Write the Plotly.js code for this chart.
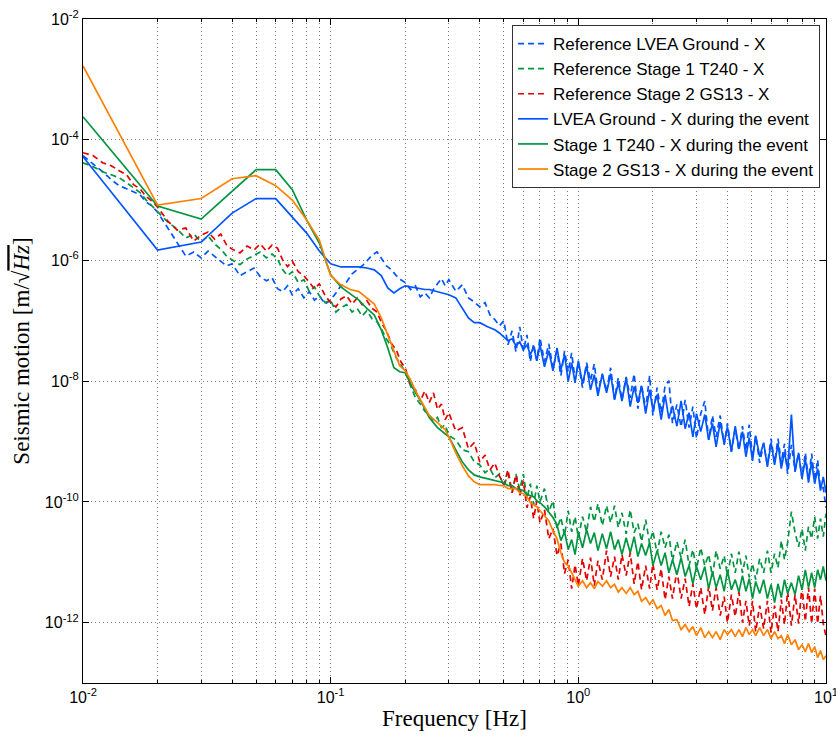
<!DOCTYPE html>
<html>
<head>
<meta charset="utf-8">
<script src="https://cdn.plot.ly/plotly-3.0.1.min.js"></script>
<style>html,body{margin:0;padding:0;background:#fff;}#chart{width:836px;height:740px;}</style>
</head>
<body>
<div id="chart"></div>
<script>
// ---------- DATA ----------
const SERIES_NAMES = [
  "Reference LVEA Ground - X",
  "Reference Stage 1 T240 - X",
  "Reference Stage 2 GS13 - X",
  "LVEA Ground - X during the event",
  "Stage 1 T240 - X during the event",
  "Stage 2 GS13 - X during the event"
];

const FREQ_REF_LO = [0.010,0.011,0.012,0.013,0.014,0.015,0.016,0.017,0.018,0.019,
0.020,0.022,0.024,0.026,0.028,0.030,0.032,0.034,0.036,0.038,
0.040,0.043,0.046,0.049,0.052,0.055,0.058,0.061,0.064,0.067,
0.070,0.074,0.078,0.082,0.086,0.090,0.095,0.100,0.105,0.110,
0.116,0.122,0.128,0.134,0.140,0.147,0.154,0.161,0.168,0.176,
0.184,0.192,0.200,0.21,0.22,0.23,0.24,0.25,0.26,0.27,
0.28,0.29,0.30,0.32,0.34,0.36,0.38,0.40,0.42,0.44,
0.46,0.48];

const FREQ_EVT_LO = [0.01,0.02,0.03,0.04,0.05,0.06,0.07,0.08,0.09,0.10,
0.11,0.12,0.13,0.14,0.15,0.16,0.17,0.18,0.19,0.20,
0.21,0.22,0.23,0.24,0.25,0.27,0.29,0.30,0.32,0.34,
0.36,0.38,0.40,0.43,0.46,0.48];

const FREQ_HI = [0.50,0.52,0.54,0.56,0.58,0.60,0.62,0.64,0.66,0.68,
0.70,0.73,0.76,0.79,0.82,0.85,0.88,0.91,0.94,0.97,
1.00,1.04,1.08,1.12,1.16,1.20,1.25,1.30,1.35,1.40,
1.45,1.50,1.56,1.62,1.68,1.74,1.80,1.87,1.94,2.00,
2.08,2.16,2.24,2.32,2.40,2.50,2.60,2.70,2.80,2.90,
3.00,3.12,3.24,3.36,3.48,3.60,3.74,3.88,4.00,4.15,
4.30,4.45,4.60,4.75,4.90,5.05,5.20,5.40,5.60,5.80,
6.00,6.20,6.40,6.60,6.80,7.00,7.25,7.50,7.75,8.00,
8.25,8.50,8.75,9.00,9.25,9.50,9.75,10.0];

// Reference LVEA Ground - X
const REF_LVEA_LO = [5.43e-5,4.01e-5,2.95e-5,2.18e-5,1.73e-5,1.54e-5,1.38e-5,1.23e-5,9.27e-6,7.96e-6,
6.33e-6,3.44e-6,2.02e-6,1.18e-6,1.38e-6,1.10e-6,1.43e-6,1.18e-6,9.5e-7,8.1e-7,
8.8e-7,5.6e-7,6.5e-7,7.5e-7,5.35e-7,4.6e-7,5.15e-7,3.4e-7,3.05e-7,3.8e-7,
2.7e-7,3.4e-7,2.4e-7,3.05e-7,2.2e-7,2.6e-7,1.9e-7,2.2e-7,2.9e-7,3.8e-7,
4.4e-7,6.0e-7,7.0e-7,8.1e-7,9.8e-7,1.23e-6,1.38e-6,1.06e-6,8.1e-7,7.0e-7,
5.6e-7,4.8e-7,4.3e-7,3.3e-7,3.8e-7,2.5e-7,2.9e-7,2.4e-7,3.3e-7,4.1e-7,
5.0e-7,3.8e-7,4.8e-7,3.1e-7,3.95e-7,2.4e-7,2.05e-7,1.7e-7,2.0e-7,1.25e-7,
1.05e-7,8.27e-8];
const REF_LVEA_HI = [1.0e-7,4.01e-8,6.83e-8,3.07e-8,7.96e-8,3.19e-8,5.86e-8,2.10e-8,4.16e-8,2.18e-8,
5.23e-8,2.10e-8,4.16e-8,1.60e-8,3.19e-8,1.23e-8,3.19e-8,1.43e-8,2.95e-8,1.06e-8,
2.02e-8,7.8e-9,2.02e-8,1.02e-8,1.94e-8,6.7e-9,1.28e-8,6.7e-9,1.67e-8,5.1e-9,
1.14e-8,4.9e-9,1.18e-8,5.3e-9,1.33e-8,3.5e-9,8.7e-9,3.4e-9,1.23e-8,2.7e-9,
7.8e-9,3.0e-9,8.4e-9,1.02e-8,2.0e-9,4.1e-9,1.75e-9,4.9e-9,1.7e-9,3.8e-9,
1.12e-9,2.9e-9,4.7e-9,1.07e-9,2.7e-9,1.2e-9,2.7e-9,8.85e-10,2.0e-9,6.8e-10,
1.63e-9,7.05e-10,1.8e-9,7.05e-10,1.9e-9,5.6e-10,1.25e-9,4.45e-10,9.2e-10,4.1e-10,
1.12e-9,4.45e-10,1.12e-9,4.45e-10,9.2e-10,2.9e-10,8.85e-10,3.3e-10,6.5e-10,2.5e-10,
6.5e-10,2.4e-10,6.3e-10,2.25e-10,5.0e-10,1.66e-10,1.72e-10,8.0e-11];

// Reference Stage 1 T240 - X
const REF_ST1_LO = [4.16e-5,3.57e-5,2.95e-5,2.63e-5,2.35e-5,1.94e-5,1.60e-5,1.33e-5,1.0e-5,7.96e-6,
6.58e-6,4.32e-6,3.31e-6,2.35e-6,2.74e-6,2.02e-6,2.54e-6,1.87e-6,1.54e-6,1.18e-6,
1.02e-6,8.5e-7,1.06e-6,1.23e-6,1.38e-6,1.10e-6,1.28e-6,1.06e-6,7.0e-7,5.6e-7,
6.5e-7,4.3e-7,4.8e-7,3.05e-7,3.65e-7,2.6e-7,2.0e-7,2.2e-7,1.4e-7,1.65e-7,
1.85e-7,1.4e-7,1.6e-7,1.2e-7,1.47e-7,1.08e-7,9.6e-8,7.1e-8,5.0e-8,3.7e-8,
2.44e-8,1.87e-8,1.43e-8,8.4e-9,5.3e-9,4.2e-9,3.2e-9,2.8e-9,2.2e-9,2.5e-9,
1.7e-9,1.9e-9,1.25e-9,1.07e-9,7.3e-10,6.8e-10,4.6e-10,4.1e-10,3.05e-10,3.55e-10,
2.5e-10,2.9e-10];
const REF_ST1_HI = [1.8e-10,2.9e-10,1.42e-10,2.9e-10,1.6e-10,2.9e-10,1.13e-10,2.0e-10,9.0e-11,1.86e-10,
1.0e-10,1.66e-10,6.9e-11,1.04e-10,3.6e-11,5.5e-11,2.76e-11,7.15e-11,3.2e-11,5.7e-11,
2.55e-11,5.7e-11,3.2e-11,8.3e-11,4.7e-11,9.35e-11,4.05e-11,8.65e-11,4.5e-11,8.65e-11,
3.75e-11,6.6e-11,2.97e-11,7.4e-11,3.1e-11,4.35e-11,2.2e-11,5.1e-11,2.04e-11,3.3e-11,
1.39e-11,3.2e-11,1.74e-11,2.86e-11,1.06e-11,2.2e-11,1.19e-11,2.37e-11,8.8e-12,1.62e-11,
7.8e-12,1.74e-11,8.8e-12,1.34e-11,5.8e-12,1.56e-11,7.8e-12,1.29e-11,6.0e-12,1.39e-11,
6.7e-12,1.5e-11,6.7e-12,1.29e-11,5.6e-12,9.5e-12,5.15e-12,1.15e-11,6.7e-12,1.56e-11,
6.7e-12,1.39e-11,8.1e-12,2.28e-11,1.1e-11,2.12e-11,6.9e-11,3.1e-11,1.81e-11,3.6e-11,
1.56e-11,3.9e-11,2.46e-11,5.7e-11,2.46e-11,5.3e-11,2.65e-11,6.4e-11];

// Reference Stage 2 GS13 - X
const REF_ST2_LO = [6.09e-5,5.43e-5,4.16e-5,3.71e-5,3.07e-5,2.63e-5,1.80e-5,1.54e-5,1.14e-5,9.63e-6,
7.66e-6,4.49e-6,3.19e-6,3.44e-6,2.10e-6,2.63e-6,2.95e-6,2.26e-6,2.74e-6,1.80e-6,
1.54e-6,1.33e-6,1.73e-6,1.49e-6,1.87e-6,1.43e-6,1.80e-6,1.60e-6,1.02e-6,7.9e-7,
9.8e-7,6.5e-7,5.6e-7,4.4e-7,3.4e-7,4.1e-7,2.6e-7,2.0e-7,1.7e-7,2.3e-7,
2.6e-7,1.9e-7,2.4e-7,1.85e-7,2.15e-7,1.6e-7,1.4e-7,8.9e-8,6.8e-8,4.2e-8,
3.3e-8,2.1e-8,1.67e-8,8.4e-9,7.2e-9,4.7e-9,6.9e-9,4.4e-9,6.4e-9,3.4e-9,
4.2e-9,2.3e-9,3.0e-9,1.5e-9,1.7e-9,7.6e-10,9.6e-10,4.6e-10,6.0e-10,3.4e-10,
4.4e-10,2.7e-10];
const REF_ST2_HI = [1.93e-10,3.4e-10,1.42e-10,2.8e-10,1.27e-10,2.25e-10,8.0e-11,1.22e-10,5.3e-11,1.04e-10,
4.5e-11,7.4e-11,2.46e-11,3.6e-11,1.29e-11,2.04e-11,6.5e-12,1.1e-11,3.65e-12,9.1e-12,
4.1e-12,1.15e-11,4.95e-12,1.19e-11,4.1e-12,1.06e-11,5.15e-12,1.56e-11,5.8e-12,1.24e-11,
5.15e-12,1.34e-11,6.0e-12,1.44e-11,4.4e-12,1.02e-11,3.5e-12,8.8e-12,3.65e-12,9.5e-12,
3.5e-12,7.8e-12,2.4e-12,5.8e-12,2.5e-12,7.3e-12,2.5e-12,5.35e-12,1.85e-12,4.4e-12,
1.7e-12,3.8e-12,1.36e-12,4.0e-12,1.58e-12,3.8e-12,1.31e-12,2.7e-12,1.0e-12,2.9e-12,
1.26e-12,3.2e-12,1.0e-12,2.3e-12,8.9e-13,2.3e-12,7.1e-13,1.92e-12,7.96e-13,2.3e-12,
6.83e-13,1.92e-12,7.1e-13,2.4e-12,9.27e-13,3.3e-12,8.9e-13,2.9e-12,9.63e-13,4.0e-12,
1.05e-12,3.8e-12,9.63e-13,3.65e-12,9.63e-13,2.8e-12,9.63e-13,5.86e-13];

// LVEA Ground - X during the event
const EVT_LVEA_LO = [5.23e-5,1.49e-6,2.02e-6,6.09e-6,1.06e-5,1.06e-5,5.23e-6,2.84e-6,1.43e-6,8.8e-7,
7.8e-7,7.8e-7,7.8e-7,7.5e-7,7.0e-7,5.6e-7,3.5e-7,2.9e-7,3.4e-7,3.8e-7,
3.65e-7,3.5e-7,3.4e-7,3.3e-7,3.3e-7,3.05e-7,2.85e-7,2.7e-7,2.4e-7,1.65e-7,
1.12e-7,9.3e-8,9.3e-8,8.0e-8,7.1e-8,6.3e-8];
const EVT_LVEA_HI = [5.43e-8,4.67e-8,5.04e-8,3.86e-8,4.49e-8,3.31e-8,4.01e-8,2.74e-8,3.71e-8,2.18e-8,
4.01e-8,1.73e-8,3.19e-8,1.49e-8,3.57e-8,1.54e-8,2.74e-8,9.8e-9,2.02e-8,9.4e-9,
2.18e-8,9.05e-9,1.80e-8,7.2e-9,1.28e-8,5.7e-9,1.33e-8,6.4e-9,1.33e-8,4.9e-9,
9.4e-9,4.7e-9,1.14e-8,3.8e-9,8.1e-9,4.4e-9,8.4e-9,2.9e-9,7.2e-9,3.4e-9,
5.95e-9,2.3e-9,5.95e-9,2.4e-9,3.9e-9,1.8e-9,4.7e-9,1.63e-9,3.0e-9,1.2e-9,
2.9e-9,1.46e-9,2.8e-9,1.07e-9,2.0e-9,8.2e-10,2.1e-9,9.2e-10,1.75e-9,6.8e-10,
1.8e-9,7.6e-10,1.46e-9,5.6e-10,1.16e-9,4.8e-10,1.25e-9,5.6e-10,9.6e-10,3.8e-10,
9.6e-10,4.1e-10,9.2e-10,3.55e-10,6.8e-10,3.4e-10,2.8e-9,3.15e-10,6.5e-10,2.4e-10,
5.2e-10,2.08e-10,4.6e-10,2.0e-10,3.55e-10,1.54e-10,2.6e-10,1.42e-10];

// Stage 1 T240 - X during the event
const EVT_ST1_LO = [2.4e-4,7.96e-6,4.85e-6,1.38e-5,3.19e-5,3.19e-5,1.49e-5,4.67e-6,1.94e-6,5.8e-7,
3.65e-7,2.8e-7,2.2e-7,1.6e-7,1.25e-7,7.1e-8,3.57e-8,1.67e-8,1.43e-8,1.38e-8,
9.4e-9,6.4e-9,4.9e-9,3.5e-9,2.5e-9,1.7e-9,1.35e-9,1.2e-9,7.3e-10,4.6e-10,
3.4e-10,2.8e-10,2.6e-10,2.4e-10,2.25e-10,2.15e-10];
const EVT_ST1_HI = [2.08e-10,1.86e-10,1.86e-10,1.66e-10,1.6e-10,1.54e-10,1.32e-10,1.27e-10,1.22e-10,1.04e-10,
9.7e-11,8.3e-11,6.6e-11,5.5e-11,4.2e-11,2.28e-11,3.2e-11,1.62e-11,2.37e-11,1.34e-11,
3.1e-11,1.74e-11,3.45e-11,2.04e-11,3.1e-11,1.56e-11,2.97e-11,1.68e-11,3.2e-11,1.62e-11,
2.37e-11,1.34e-11,2.55e-11,1.44e-11,2.65e-11,1.24e-11,2.04e-11,1.29e-11,2.12e-11,8.8e-12,
1.56e-11,8.8e-12,1.44e-11,6.7e-12,1.1e-11,6.2e-12,1.19e-11,5.8e-12,8.8e-12,4.4e-12,
8.5e-12,5.15e-12,8.5e-12,3.65e-12,7.0e-12,3.8e-12,6.2e-12,3.3e-12,7.3e-12,3.5e-12,
5.15e-12,3.2e-12,6.0e-12,3.3e-12,5.35e-12,2.5e-12,4.8e-12,3.05e-12,5.15e-12,2.5e-12,
4.3e-12,2.15e-12,4.4e-12,2.6e-12,5.15e-12,3.05e-12,4.6e-12,2.9e-12,6.0e-12,3.5e-12,
7.5e-12,3.8e-12,6.7e-12,3.8e-12,7.5e-12,5.15e-12,8.5e-12,4.95e-12];

// Stage 2 GS13 - X during the event
const EVT_ST2_LO = [1.67e-3,8.27e-6,1.06e-5,2.26e-5,2.54e-5,1.73e-5,1.0e-5,4.67e-6,2.18e-6,5.6e-7,
3.95e-7,3.3e-7,3.05e-7,2.4e-7,1.9e-7,1.12e-7,5.86e-8,3.07e-8,1.80e-8,1.49e-8,
1.06e-8,6.9e-9,4.9e-9,3.6e-9,2.7e-9,2.05e-9,1.57e-9,1.2e-9,6.5e-10,3.97e-10,
2.7e-10,2.15e-10,1.93e-10,1.93e-10,1.93e-10,1.87e-10];
const EVT_ST2_HI = [1.86e-10,1.66e-10,1.66e-10,1.66e-10,1.42e-10,1.37e-10,1.22e-10,9.7e-11,9.0e-11,8.3e-11,
7.15e-11,5.9e-11,4.9e-11,3.3e-11,2.46e-11,1.44e-11,9.85e-12,8.8e-12,6.7e-12,4.95e-12,
4.0e-12,4.95e-12,3.8e-12,4.6e-12,3.65e-12,4.8e-12,4.0e-12,4.95e-12,3.8e-12,4.3e-12,
3.2e-12,3.8e-12,3.05e-12,3.8e-12,2.9e-12,3.3e-12,2.25e-12,2.6e-12,2.0e-12,2.4e-12,
1.7e-12,1.92e-12,1.31e-12,1.65e-12,1.08e-12,1.12e-12,7.66e-13,9.27e-13,7.1e-13,8.59e-13,
6.09e-13,8.27e-13,5.65e-13,7.1e-13,5.65e-13,7.1e-13,5.23e-13,7.66e-13,6.33e-13,7.66e-13,
5.86e-13,7.66e-13,5.86e-13,8.27e-13,6.33e-13,7.66e-13,6.09e-13,8.27e-13,6.09e-13,7.66e-13,
5.43e-13,7.1e-13,5.43e-13,6.09e-13,4.49e-13,6.33e-13,4.32e-13,5.23e-13,3.57e-13,4.32e-13,
3.31e-13,4.49e-13,3.19e-13,4.01e-13,2.63e-13,3.44e-13,2.44e-13,2.84e-13];

// Axis ticks
const X_TICK_VALS = [0.01, 0.1, 1, 10];
const X_TICK_TEXT = ["10<sup>-2</sup>", "10<sup>-1</sup>", "10<sup>0</sup>", "10<sup>1</sup>"];
const X_MINOR_VALS = [0.02,0.03,0.04,0.05,0.06,0.07,0.08,0.09,0.2,0.3,0.4,0.5,0.6,0.7,0.8,0.9,2,3,4,5,6,7,8,9];
const Y_TICK_VALS = [1e-12, 1e-10, 1e-8, 1e-6, 1e-4, 1e-2];
const Y_TICK_TEXT = ["10<sup>-12</sup>", "10<sup>-10</sup>", "10<sup>-8</sup>", "10<sup>-6</sup>", "10<sup>-4</sup>", "10<sup>-2</sup>"];

// ---------- STYLE ----------
const BLUE = "rgb(0,85,255)";
const GREEN = "rgb(0,150,64)";
const RED = "rgb(228,0,0)";
const ORANGE = "rgb(255,128,0)";
const DASH = "6px,4px";

function mk(name, xs, ys, color, dash) {
  return {
    type: "scatter", mode: "lines", name: name, x: xs, y: ys,
    line: { color: color, width: 1.7, dash: dash }
  };
}

const traces = [
  mk(SERIES_NAMES[0], FREQ_REF_LO.concat(FREQ_HI), REF_LVEA_LO.concat(REF_LVEA_HI), BLUE, DASH),
  mk(SERIES_NAMES[1], FREQ_REF_LO.concat(FREQ_HI), REF_ST1_LO.concat(REF_ST1_HI), GREEN, DASH),
  mk(SERIES_NAMES[2], FREQ_REF_LO.concat(FREQ_HI), REF_ST2_LO.concat(REF_ST2_HI), RED, DASH),
  mk(SERIES_NAMES[3], FREQ_EVT_LO.concat(FREQ_HI), EVT_LVEA_LO.concat(EVT_LVEA_HI), BLUE, "solid"),
  mk(SERIES_NAMES[4], FREQ_EVT_LO.concat(FREQ_HI), EVT_ST1_LO.concat(EVT_ST1_HI), GREEN, "solid"),
  mk(SERIES_NAMES[5], FREQ_EVT_LO.concat(FREQ_HI), EVT_ST2_LO.concat(EVT_ST2_HI), ORANGE, "solid")
];

const GRID = "#7a7a7a";
const GRIDDASH = "1px,3px";
const TICKFONT = { family: "Liberation Sans, Arial, sans-serif", size: 16, color: "#000" };
const SERIF = "Liberation Serif, Times New Roman, serif";

const layout = {
  width: 836, height: 740,
  margin: { l: 83, r: 10, t: 19, b: 57 },
  paper_bgcolor: "#fff", plot_bgcolor: "#fff",
  showlegend: true,
  xaxis: {
    type: "log", range: [-2, 1],
    tickmode: "array", tickvals: X_TICK_VALS, ticktext: X_TICK_TEXT,
    ticks: "inside", ticklen: 6, tickcolor: "#000",
    ticklabeloverflow: "allow",
    showline: true, mirror: "ticks", linecolor: "#000", linewidth: 1,
    showgrid: true, gridcolor: GRID, griddash: GRIDDASH, gridwidth: 1,
    minor: { tickmode: "array", tickvals: X_MINOR_VALS, ticks: "inside", ticklen: 3, tickcolor: "#000",
             showgrid: true, gridcolor: GRID, griddash: GRIDDASH, gridwidth: 1 },
    zeroline: false,
    tickfont: TICKFONT,
    title: { text: "Frequency [Hz]", font: { family: SERIF, size: 23, color: "#000" }, standoff: 4 }
  },
  yaxis: {
    type: "log", range: [-13, -2],
    tickmode: "array", tickvals: Y_TICK_VALS, ticktext: Y_TICK_TEXT,
    ticks: "inside", ticklen: 6, tickcolor: "#000",
    showline: true, mirror: "ticks", linecolor: "#000", linewidth: 1,
    showgrid: true, gridcolor: GRID, griddash: GRIDDASH, gridwidth: 1,
    zeroline: false,
    tickfont: TICKFONT,
    title: { text: "Seismic motion [m/√<span style='text-decoration:overline'><i>Hz</i></span>]", font: { family: SERIF, size: 23, color: "#000" }, standoff: 8 }
  },
  legend: {
    x: 0.992, y: 0.991, xanchor: "right", yanchor: "top",
    bgcolor: "#fff", bordercolor: "#333", borderwidth: 1,
    font: { family: "Liberation Sans, Arial, sans-serif", size: 17, color: "#000" },
    itemwidth: 30, tracegroupgap: 0
  }
};

Plotly.newPlot("chart", traces, layout, { displayModeBar: false, staticPlot: true });
</script>
</body>
</html>
